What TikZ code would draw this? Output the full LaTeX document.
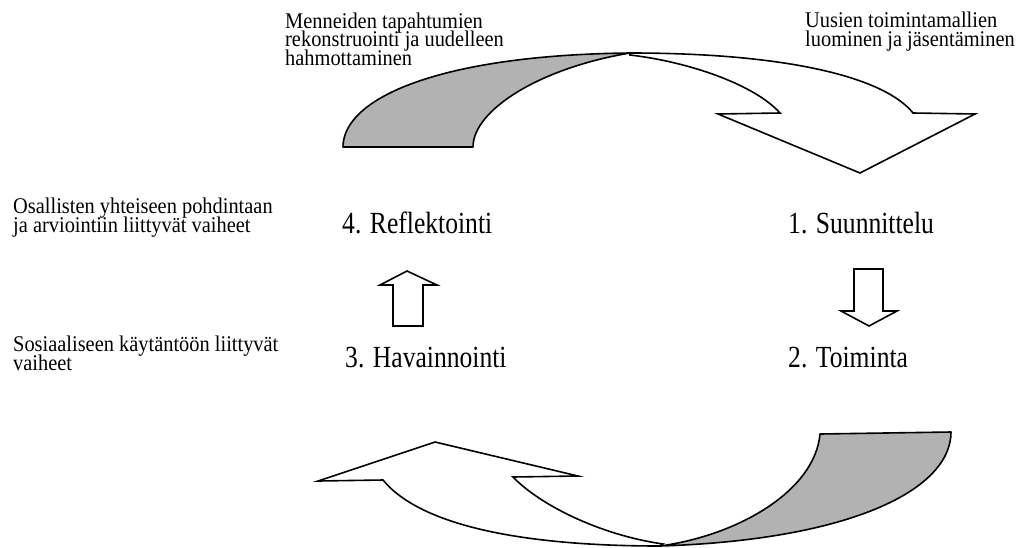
\documentclass[tikz,border=0pt]{standalone}
\usepackage{graphicx}
\usepackage{fontspec}
\setmainfont{Liberation Serif}
\usetikzlibrary{positioning}
\newcommand\tightlines{\lineskiplimit=-30pt\relax}
\newcommand\tall[1]{\scalebox{1}[1.2]{#1}}
\newcommand\tallish[1]{\scalebox{1}[1.1]{#1}}

\begin{document}
\begin{tikzpicture}[x=1pt,y=-1pt]
  \useasboundingbox (0,0) rectangle (1020,547);

  %% --- PHASES ---
  \node[anchor=base west, inner sep=0pt, font=\fontsize{25.6}{28}\selectfont] (plan)    at (788,233) {\tall{1. Suunnittelu}};
  \node[anchor=base west, inner sep=0pt, font=\fontsize{25.6}{28}\selectfont] (act)     at (788,367) {\tall{2. Toiminta}};
  \node[anchor=base west, inner sep=0pt, font=\fontsize{25.6}{28}\selectfont] (observe) at (345,367) {\tall{3. Havainnointi}};
  \node[anchor=base west, inner sep=0pt, font=\fontsize{25.6}{28}\selectfont] (reflect) at (342,233) {\tall{4. Reflektointi}};

  %% --- SIDE TEXTS (anchored on the last line) ---
  \node[anchor=base west, inner sep=0pt, align=left, font=\fontsize{20.4}{18.5}\selectfont\tightlines] (past)   at (285,65)  {\tallish{Menneiden tapahtumien}\\\tallish{rekonstruointi ja uudelleen}\\\tallish{hahmottaminen}};
  \node[anchor=base west, inner sep=0pt, align=left, font=\fontsize{20.4}{18.5}\selectfont\tightlines] (new)    at (805,46)  {\tallish{Uusien toimintamallien}\\\tallish{luominen ja jäsentäminen}};
  \node[anchor=base west, inner sep=0pt, align=left, font=\fontsize{20.4}{18.5}\selectfont\tightlines] (joint)  at (13,232)  {\tallish{Osallisten yhteiseen pohdintaan}\\\tallish{ja arviointiin liittyvät vaiheet}};
  \node[anchor=base west, inner sep=0pt, align=left, font=\fontsize{20.4}{18.5}\selectfont\tightlines] (social) at (13,370)  {\tallish{Sosiaaliseen käytäntöön liittyvät}\\\tallish{vaiheet}};

  %% --- TOP CURVED ARROW ---
  \draw[line width=1.6pt, fill=black!30, line join=round]
    (343,147) .. controls (343,98) and (440,55) .. (630,53)
    .. controls (540,68) and (473,110) .. (473,147) -- cycle;
  \draw[line width=1.6pt, fill=white, line join=miter]
    (630,53) .. controls (790,53) and (885,78) .. (913,113)
    -- (975,114) -- (860,173) -- (718,114) -- (780,113)
    .. controls (755,85) and (690,62) .. (630,55) -- cycle;

  %% --- BOTTOM CURVED ARROW ---
  \draw[line width=1.6pt, fill=black!30, line join=round]
    (820,434) -- (951,432) .. controls (951,490) and (850,540) .. (660,546)
    .. controls (740,535) and (815,490) .. (820,434) -- cycle;
  \draw[line width=1.6pt, fill=white, line join=miter]
    (660,546) .. controls (520,546) and (420,525) .. (383,480)
    -- (318,481) -- (435,442) -- (578,476) -- (513,477)
    .. controls (540,505) and (600,535) .. (663,544) -- cycle;

  %% --- STRAIGHT ARROWS ---
  \draw[line width=1.6pt, fill=white]
    (393,326) -- (393,285) -- (380,285) -- (407,271) -- (437,285) -- (423,285) -- (423,326) -- cycle;
  \draw[line width=1.6pt, fill=white]
    (854,269) -- (883,269) -- (883,311) -- (897,311) -- (869,326) -- (841,311) -- (854,311) -- cycle;
\end{tikzpicture}
\end{document}
